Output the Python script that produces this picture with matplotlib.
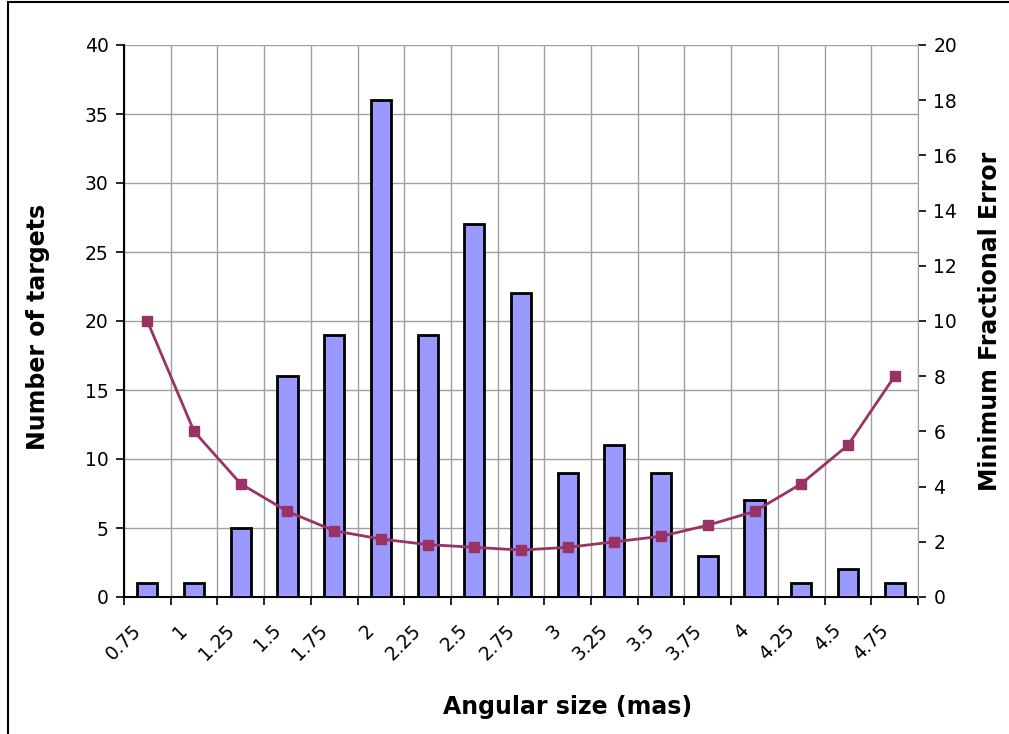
"""角サイズごとのターゲット数と最小相対誤差のグラフ。"""

import matplotlib.pyplot as plt
from matplotlib.patches import Rectangle
from matplotlib.transforms import ScaledTranslation

plt.rcParams["font.family"] = ["DejaVu Sans"]

# データ定義
SIZES = ["0.75", "1", "1.25", "1.5", "1.75", "2", "2.25", "2.5", "2.75",
         "3", "3.25", "3.5", "3.75", "4", "4.25", "4.5", "4.75"]
COUNTS = [1, 1, 5, 16, 19, 36, 19, 27, 22, 9, 11, 9, 3, 7, 1, 2, 1]
FRAC_ERROR = [10, 6, 4.1, 3.1, 2.4, 2.1, 1.9, 1.8, 1.7, 1.8, 2.0, 2.2, 2.6,
              3.1, 4.1, 5.5, 8]

BAR_COLOR = "#9999FF"
LINE_COLOR = "#993366"
GRID_COLOR = "#A0A0A0"
TICK_SIZE = 13.5
LABEL_SIZE = 17


def main() -> None:
    fig = plt.figure(figsize=(10.09, 7.34), dpi=100)
    ax = fig.add_axes([124 / 1009, 137 / 734, 794 / 1009, 552 / 734])

    n = len(SIZES)
    xs = list(range(n))

    ax.bar(xs, COUNTS, width=0.43, color=BAR_COLOR, edgecolor="black",
           linewidth=2, zorder=3)

    ax.set_xlim(-0.5, n - 0.5)
    ax.set_ylim(0, 40)
    ax.set_yticks(range(0, 41, 5))

    # カテゴリ境界にグリッドと目盛り
    ax.set_xticks(xs)
    ax.set_xticklabels(SIZES, rotation=45, ha="right", rotation_mode="anchor")
    ax.set_xticks([i - 0.5 for i in range(n + 1)], minor=True)
    ax.tick_params(axis="x", which="major", length=0, pad=17, labelsize=TICK_SIZE)
    ax.tick_params(axis="x", which="minor", length=6, width=1.2, direction="out")
    ax.tick_params(axis="y", length=6, width=1.2, labelsize=TICK_SIZE, pad=5)
    offset = ScaledTranslation(-16 / 100, 0, fig.dpi_scale_trans)
    for lbl in ax.get_xticklabels():
        lbl.set_transform(lbl.get_transform() + offset)
    ax.grid(True, which="minor", axis="x", color=GRID_COLOR, linewidth=1)
    ax.grid(True, which="major", axis="y", color=GRID_COLOR, linewidth=1)
    ax.set_axisbelow(True)

    for side in ["top", "right"]:
        ax.spines[side].set_visible(False)
    ax.spines["left"].set_linewidth(1.5)
    ax.spines["bottom"].set_linewidth(1.5)

    ax.set_ylabel("Number of targets", fontsize=LABEL_SIZE, fontweight="bold")
    ax.set_xlabel("Angular size (mas)", fontsize=LABEL_SIZE, fontweight="bold")
    ax.yaxis.set_label_coords(-86 / 794, 0.5 - 6 / 552)
    ax.xaxis.set_label_coords((568 - 124) / 794, -(707 - 597) / 552)
    ax.xaxis.label.set_va("center")
    ax.yaxis.label.set_va("center")

    # 右軸: 最小相対誤差
    ax2 = ax.twinx()
    ax2.plot(xs, FRAC_ERROR, color=LINE_COLOR, linewidth=2, marker="s",
             markersize=7.5, zorder=4)
    ax2.set_ylim(0, 20)
    ax2.set_yticks(range(0, 21, 2))
    ax2.tick_params(axis="y", length=6, width=1.2, labelsize=TICK_SIZE, pad=5)
    for side in ["top", "left", "bottom"]:
        ax2.spines[side].set_visible(False)
    ax2.spines["right"].set_color(GRID_COLOR)
    ax2.set_ylabel("Minimum Fractional Error", fontsize=LABEL_SIZE,
                   fontweight="bold")
    ax2.yaxis.set_label_coords(1 + (990 - 918) / 794, 0.5)
    ax2.yaxis.label.set_va("center")

    # 外枠
    fig.patches.append(Rectangle((8 / 1009, -0.1), 1.2, 1.1 - 2 / 734,
                                 transform=fig.transFigure, fill=False,
                                 edgecolor="black", linewidth=1.5))

    fig.savefig("out.png", dpi=100)
    plt.close(fig)


if __name__ == "__main__":
    main()
